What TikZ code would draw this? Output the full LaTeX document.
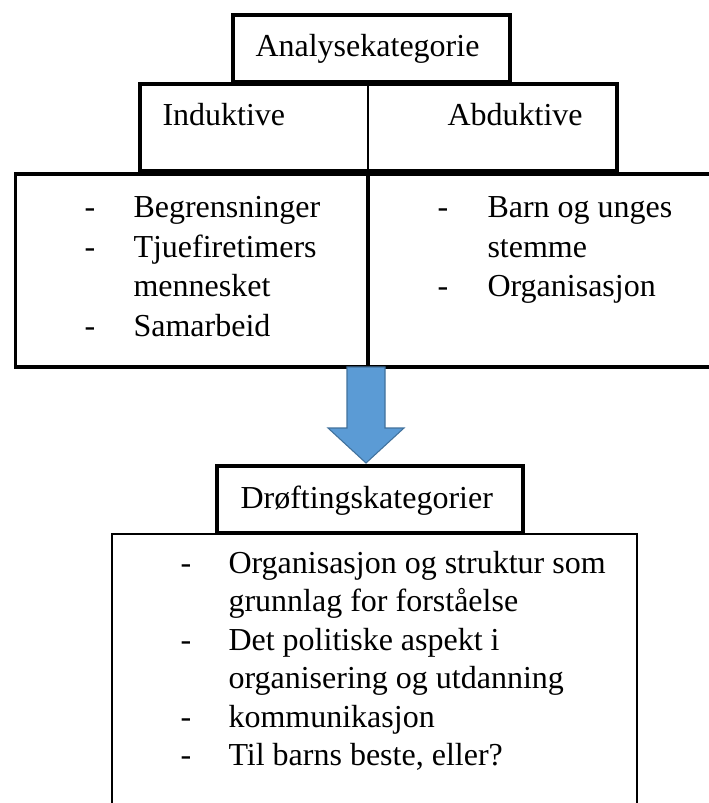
\documentclass[tikz,border=0pt]{standalone}
\usepackage{fontspec}
\setmainfont{Liberation Serif}
\definecolor{pilblaa}{HTML}{5B9BD5}
\definecolor{pilkant}{HTML}{41719C}

\begin{document}
\begin{tikzpicture}[x=.375pt, y=-.375pt, line join=miter,
	tykk/.style={line width=1.3pt},
	tynn/.style={line width=.85pt},
	tekst/.style={anchor=base west, inner sep=0pt, font=\fontsize{12}{14}\selectfont}]
	\useasboundingbox (0,0) rectangle (708,803);
	%kasser
	\draw[tykk] (233,15)  rectangle (510,82);
	\draw[tykk] (140,84)  rectangle (617,171);
	\draw[tynn] (368,84)  -- (368,171);
	\draw[tykk] (712,174) -- (15.5,174) -- (15.5,367) -- (712,367);
	\draw[tykk] (368,174) -- (368,367);
	\draw[tykk] (217,466) rectangle (523,533);
	\draw[tynn] (112,810) -- (112,534) -- (637,534) -- (637,810);
	%pil
	\coordinate (pilrot)   at (366,367);
	\coordinate (pilspiss) at (366,463);
	\filldraw[fill=pilblaa, draw=pilkant, line width=.4pt]
		(pilrot) ++(-19,0) -- ++(0,61) -- ++(-19,0) -- (pilspiss) -- ++(38,-35) -- ++(-19,0) -- ++(0,-61) -- cycle;
	%overskrifter
	\node[tekst] (analyse) at (255,57)  {Analysekategorie};
	\node[tekst] (induk)   at (162,125) {Induktive};
	\node[tekst] (abduk)   at (447,125) {Abduktive};
	\node[tekst] (droft)   at (240,508) {Drøftingskategorier};
	%induktive
	\node[tekst] (ind1s) at (84,217)  {-};
	\node[tekst] (ind1)  at (133,217) {Begrensninger};
	\node[tekst] (ind2s) at (84,257)  {-};
	\node[tekst] (ind2)  at (133,257) {Tjuefiretimers};
	\node[tekst] (ind2b) at (133,296) {mennesket};
	\node[tekst] (ind3s) at (84,336)  {-};
	\node[tekst] (ind3)  at (133,336) {Samarbeid};
	%abduktive
	\node[tekst] (abd1s) at (437,217) {-};
	\node[tekst] (abd1)  at (487,217) {Barn og unges};
	\node[tekst] (abd1b) at (487,257) {stemme};
	\node[tekst] (abd2s) at (437,296) {-};
	\node[tekst] (abd2)  at (487,296) {Organisasjon};
	%drofting
	\node[tekst] (dr1s) at (180,573) {-};
	\node[tekst] (dr1)  at (228,573) {Organisasjon og struktur som};
	\node[tekst] (dr1b) at (228,611) {grunnlag for forståelse};
	\node[tekst] (dr2s) at (180,650) {-};
	\node[tekst] (dr2)  at (228,650) {Det politiske aspekt i};
	\node[tekst] (dr2b) at (228,688) {organisering og utdanning};
	\node[tekst] (dr3s) at (180,727) {-};
	\node[tekst] (dr3)  at (228,727) {kommunikasjon};
	\node[tekst] (dr4s) at (180,765) {-};
	\node[tekst] (dr4)  at (228,765) {Til barns beste, eller?};
\end{tikzpicture}
\end{document}
